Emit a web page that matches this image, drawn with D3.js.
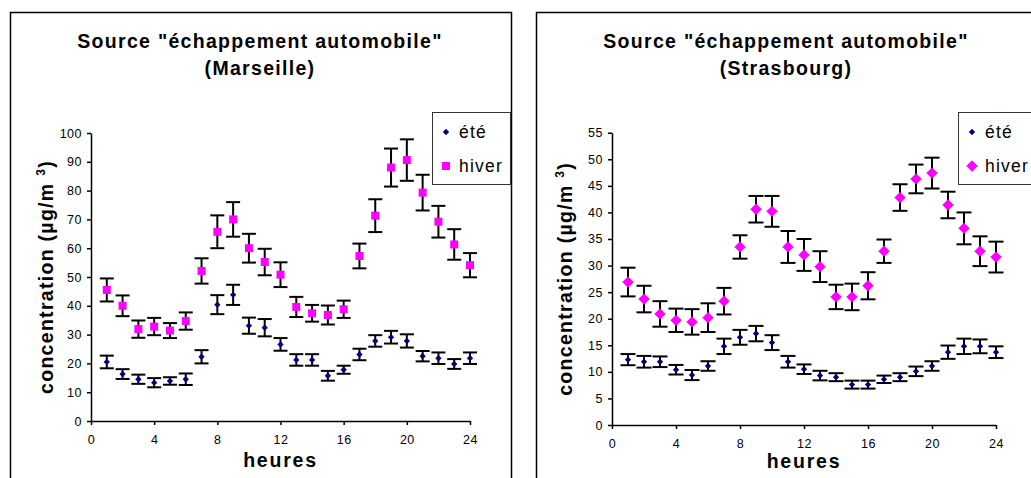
<!DOCTYPE html>
<html>
<head>
<meta charset="utf-8">
<script src="https://cdn.jsdelivr.net/npm/d3@7"></script>
<style>
  html, body { margin: 0; padding: 0; background: #fff; }
  svg { display: block; }
  text { font-family: "Liberation Sans", Arial, sans-serif; fill: #000; }
</style>
</head>
<body>
<svg id="chart" width="1031" height="478"></svg>
<script>
// Hours of the day (x categories)
const hours = [1,2,3,4,5,6,7,8,9,10,11,12,13,14,15,16,17,18,19,20,21,22,23,24];
const xTicks = [0,4,8,12,16,20,24];

// Marseille – concentrations (µg/m³) and error half-widths
const marseilleEte      = [20.5,16.3,14.5,13.3,13.9,14.5,22.3,40.4,43.8,33.1,32.4,26.6,21.2,21.2,15.7,17.8,23.1,27.8,29.1,27.8,22.5,21.8,19.8,21.8];
const marseilleEteErr   = [2.2,1.7,1.6,1.6,1.3,2.0,2.3,3.3,3.5,2.8,3.0,2.2,2.0,2.0,1.7,1.4,2.0,2.0,2.2,2.3,1.8,2.0,1.7,2.0];
const marseilleHiver    = [45.5,40.0,31.9,32.8,31.4,34.7,52.1,65.7,70.0,60.0,55.2,50.8,39.6,37.4,36.8,38.8,57.3,71.3,88.0,90.6,79.3,69.2,61.3,54.1];
const marseilleHiverErr = [4.0,3.6,3.0,3.0,2.6,3.0,4.4,5.7,6.0,5.0,4.6,4.3,3.5,2.9,3.3,3.0,4.3,5.7,6.6,7.2,6.2,5.5,5.3,4.2];
const marseilleYTicks   = [0,10,20,30,40,50,60,70,80,90,100];

// Strasbourg – concentrations (µg/m³) and error half-widths
const strasbourgEte      = [12.3,11.9,11.9,10.4,9.4,11.1,14.8,16.5,17.2,15.5,11.9,10.5,9.3,9.0,7.6,7.6,8.6,9.0,10.1,11.1,13.7,14.8,14.8,13.7];
const strasbourgEteErr   = [1.05,1.1,1.0,0.9,0.95,0.9,1.45,1.4,1.45,1.4,1.1,0.9,0.9,0.75,0.75,0.75,0.7,0.75,0.9,0.9,1.25,1.45,1.3,1.1];
const strasbourgHiver    = [26.9,23.7,20.9,19.7,19.4,20.2,23.3,33.5,40.6,40.2,33.5,32.0,29.8,24.1,24.1,26.2,32.7,42.8,46.3,47.4,41.4,37.0,32.7,31.6];
const strasbourgHiverErr = [2.7,2.5,2.4,2.2,2.4,2.7,2.5,2.2,2.5,2.9,3.0,3.0,2.9,2.3,2.5,2.55,2.2,2.5,2.7,2.9,2.5,3.0,2.8,2.9];
const strasbourgYTicks   = [0,5,10,15,20,25,30,35,40,45,50,55];

const seriesNames = ["été", "hiver"];
const titleLine1 = 'Source "échappement automobile"';

const NAVY = "#000080", MAGENTA = "#FF00FF";
const svg = d3.select("#chart");

// Square-cornered diamond (a square turned 45°); size = area
const symbolRhombus = {
  draw(ctx, size) {
    const r = Math.sqrt(size / 2);
    ctx.moveTo(0, -r); ctx.lineTo(r, 0); ctx.lineTo(0, r); ctx.lineTo(-r, 0); ctx.closePath();
  }
};

function drawPanel(cfg) {
  const g = svg.append("g");

  // chart frame
  g.append("rect")
    .attr("x", cfg.frame[0] + 0.5).attr("y", cfg.frame[1] + 0.5)
    .attr("width", cfg.frame[2]).attr("height", 520)
    .attr("fill", "#fff").attr("stroke", "#000").attr("stroke-width", 1.5);

  // title
  const title = g.append("text")
    .attr("text-anchor", "middle")
    .attr("font-size", 19.5).attr("font-weight", "bold")
    .attr("letter-spacing", "1.3px");
  title.append("tspan").attr("x", cfg.titleX).attr("y", 48).text(titleLine1);
  title.append("tspan").attr("x", cfg.titleX).attr("y", 75).text(cfg.city);

  const x = d3.scaleLinear().domain([0, 24]).range([cfg.x0, cfg.x1]);
  const y = d3.scaleLinear().domain([0, cfg.yMax]).range([cfg.y0, cfg.yTop]);

  // y axis
  const ya = g.append("g").attr("transform", `translate(${cfg.x0},0)`)
    .call(d3.axisLeft(y).tickValues(cfg.yTicks).tickSize(4).tickPadding(5).tickSizeOuter(0));
  // x axis
  const xa = g.append("g").attr("transform", `translate(0,${cfg.y0})`)
    .call(d3.axisBottom(x).tickValues(xTicks).tickSize(4).tickPadding(10).tickSizeOuter(0));
  [ya, xa].forEach(a => {
    a.select(".domain").attr("stroke", "#000").attr("stroke-width", 1.5);
    a.selectAll(".tick line").attr("stroke", "#000").attr("stroke-width", 1.5);
    a.selectAll(".tick text").attr("font-size", 12.5)
      .attr("font-family", '"Liberation Sans", Arial, sans-serif')
      .attr("fill", "#222").attr("letter-spacing", "0.5px");
  });

  // axis titles
  g.append("text")
    .attr("x", (cfg.x0 + cfg.x1) / 2).attr("y", cfg.xTitleY)
    .attr("text-anchor", "middle").attr("font-size", 19.5).attr("font-weight", "bold")
    .attr("letter-spacing", "1.8px").text("heures");

  const yt = g.append("text")
    .attr("transform", `translate(${cfg.yTitleX},${(cfg.y0 + cfg.yTop) / 2}) rotate(-90)`)
    .attr("text-anchor", "middle").attr("font-size", 19.5).attr("font-weight", "bold")
    .attr("letter-spacing", "1.3px");
  yt.append("tspan").text("concentration (µg/m ");
  yt.append("tspan").attr("font-size", 12).attr("dy", -8).text("3");
  yt.append("tspan").attr("dy", 8).text(")");

  // error bars + markers for each season
  const series = [
    { vals: cfg.ete, err: cfg.eteErr, color: NAVY, shape: symbolRhombus, size: 20 },
    { vals: cfg.hiver, err: cfg.hiverErr, color: MAGENTA, shape: cfg.hiverShape, size: cfg.hiverSize }
  ];
  const cap = cfg.cap;
  series.forEach(s => {
    const data = hours.map((h, i) => ({ h, v: s.vals[i], e: s.err[i] }));
    const eb = g.append("g").attr("stroke", "#000").attr("stroke-width", 2).attr("fill", "none");
    const grp = eb.selectAll("g").data(data).join("g");
    grp.append("line")
      .attr("x1", d => x(d.h)).attr("x2", d => x(d.h))
      .attr("y1", d => y(d.v + d.e)).attr("y2", d => y(d.v - d.e));
    grp.append("line")
      .attr("x1", d => x(d.h) - cap).attr("x2", d => x(d.h) + cap)
      .attr("y1", d => y(d.v + d.e)).attr("y2", d => y(d.v + d.e));
    grp.append("line")
      .attr("x1", d => x(d.h) - cap).attr("x2", d => x(d.h) + cap)
      .attr("y1", d => y(d.v - d.e)).attr("y2", d => y(d.v - d.e));
    s.data = data;
  });
  series.forEach(s => {
    g.append("g").selectAll("path").data(s.data).join("path")
      .attr("transform", d => `translate(${x(d.h)},${y(d.v)})`)
      .attr("d", d3.symbol().type(s.shape).size(s.size))
      .attr("fill", s.color);
  });

  // legend
  const lg = g.append("g").attr("transform", `translate(${cfg.legendX},112)`);
  lg.append("rect").attr("x", 0.5).attr("y", 0.5).attr("width", 78).attr("height", 72)
    .attr("fill", "#fff").attr("stroke", "#333").attr("stroke-width", 1);
  seriesNames.forEach((name, i) => {
    const s = series[i];
    const cy = 20 + i * 34;
    lg.append("path").attr("transform", `translate(14,${cy})`)
      .attr("d", d3.symbol().type(s.shape).size(s.size)).attr("fill", s.color);
    lg.append("text").attr("x", 27).attr("y", cy + 6)
      .attr("font-size", 17.5).attr("letter-spacing", "1.2px").text(name);
  });
}

drawPanel({
  city: "(Marseille)",
  frame: [10, 12, 501], titleX: 260,
  x0: 91, x1: 470, y0: 421, yTop: 133, yMax: 100, yTicks: marseilleYTicks,
  xTitleY: 467, yTitleX: 53, legendX: 432, cap: 7,
  ete: marseilleEte, eteErr: marseilleEteErr,
  hiver: marseilleHiver, hiverErr: marseilleHiverErr,
  hiverShape: d3.symbolSquare, hiverSize: 64
});

drawPanel({
  city: "(Strasbourg)",
  frame: [536, 12, 501], titleX: 786,
  x0: 612, x1: 996, y0: 425, yTop: 132.7, yMax: 55, yTicks: strasbourgYTicks,
  xTitleY: 468, yTitleX: 572, legendX: 958, cap: 7.5,
  ete: strasbourgEte, eteErr: strasbourgEteErr,
  hiver: strasbourgHiver, hiverErr: strasbourgHiverErr,
  hiverShape: symbolRhombus, hiverSize: 64
});
</script>
</body>
</html>
